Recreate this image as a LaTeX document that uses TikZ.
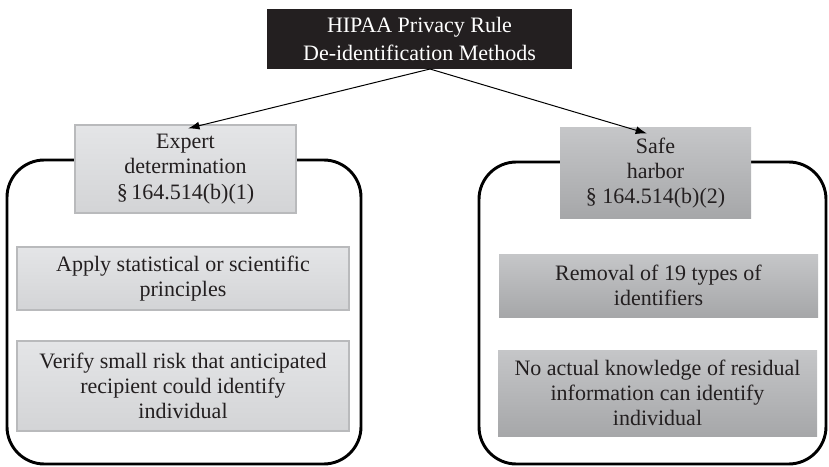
\documentclass[tikz,border=0pt]{standalone}
\usepackage{fontspec}
\setmainfont{Liberation Serif}
\usetikzlibrary{arrows.meta}

\definecolor{inkgray}{HTML}{231F20}
\tikzset{every picture/.style={line width=0.75pt}}
\tikzset{
  lightbox/.style={top color={rgb,255:red,228;green,229;blue,231},bottom color={rgb,255:red,211;green,212;blue,214},draw={rgb,255:red,185;green,186;blue,188},line width=0.9pt,text=inkgray,align=center,inner sep=0pt},
  darkbox/.style={top color={rgb,255:red,197;green,198;blue,200},bottom color={rgb,255:red,166;green,167;blue,169},text=inkgray,align=center,inner sep=0pt},
  boxfont/.style={font=\fontsize{16.5}{19}\selectfont}
}

\begin{document}
\begin{tikzpicture}[x=0.75pt,y=0.75pt,yscale=-1,xscale=1]
\path (0,0) rectangle (829,467); %set diagram to 829 x 467

%Rounded Rect [id:left frame]
\draw  [line width=2.2pt, rounded corners=28pt] (7,160) rectangle (361,464) ;
%Rounded Rect [id:right frame]
\draw  [line width=2.2pt, rounded corners=28pt] (479,162) rectangle (826,464) ;

% Text Node
\draw (419.5,39) node (top) [fill=inkgray, text=white, minimum width=228.75pt, minimum height=45pt, align=center, inner sep=0pt, font=\fontsize{16.5}{21}\selectfont] {HIPAA Privacy Rule\\De-identification Methods};
% Text Node
\draw (185.5,169) node (lefthead) [lightbox, boxfont, minimum width=165.75pt, minimum height=66pt] {Expert\\determination\\\S\,164.514(b)(1)};
% Text Node
\draw (655.5,173) node (righthead) [darkbox, boxfont, minimum width=143.25pt, minimum height=67.5pt] {Safe\\harbor\\\S{} 164.514(b)(2)};
% Text Node
\draw (183,278.5) node (expertone) [lightbox, boxfont, minimum width=249pt, minimum height=47.25pt] {Apply statistical or scientific\\principles};
% Text Node
\draw (183,386) node (experttwo) [lightbox, boxfont, minimum width=249pt, minimum height=67.5pt] {Verify small risk that anticipated\\recipient could identify\\individual};
% Text Node
\draw (658.5,285.5) node (harborone) [darkbox, boxfont, minimum width=239.25pt, minimum height=47.25pt] {Removal of 19 types of\\identifiers};
% Text Node
\draw (657.5,393) node (harbortwo) [darkbox, boxfont, minimum width=239.25pt, minimum height=64.5pt] {No actual knowledge of residual\\information can identify\\individual};

%Straight Lines [id:split]
\coordinate (split) at (430,69);
\draw [-{Latex[length=8.5pt,width=6pt]}]  (split) -- ([xshift=2pt,yshift=3pt]lefthead.north) ;
\draw [-{Latex[length=8.5pt,width=6pt]}]  (split) -- ([xshift=-6.4pt,yshift=4.5pt]righthead.north) ;

\end{tikzpicture}
\end{document}
